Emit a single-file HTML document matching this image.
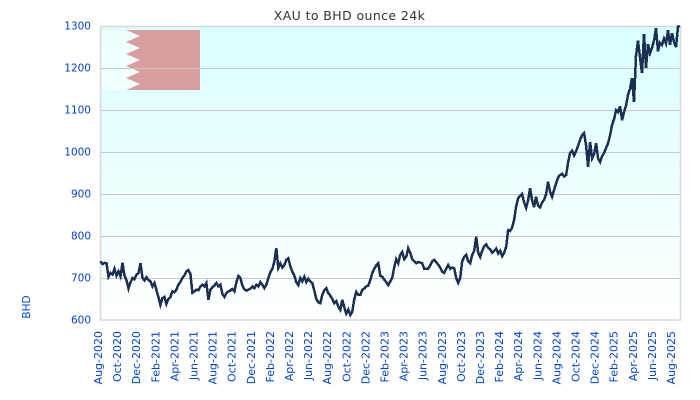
<!DOCTYPE html>
<html>
<head>
<meta charset="utf-8">
<title>XAU to BHD ounce 24k</title>
<style>
html,body{margin:0;padding:0;background:#fff;}
#chart{display:block;width:700px;height:400px;font-family:"DejaVu Sans","Liberation Sans",sans-serif;}
</style>
</head>
<body>
<svg id="chart" xmlns="http://www.w3.org/2000/svg" width="700" height="400" viewBox="0 0 700 400">
  <defs>
    <linearGradient id="plotBg" x1="0" y1="0" x2="0" y2="1">
      <stop offset="0" stop-color="#d9ffff"/>
      <stop offset="1" stop-color="#ffffff"/>
    </linearGradient>
  </defs>
  <rect x="0" y="0" width="700" height="400" fill="#ffffff"/>
  <rect x="100" y="26" width="580" height="294" fill="url(#plotBg)"/>
  <g>
    <rect x="101" y="30" width="40" height="60" fill="#ffffff" fill-opacity="0.55"/>
    <polygon fill="#d89d9f" points="126,30 200,30 200,90 126,90 140,84 126,78 140,72 126,66 140,60 126,54 140,48 126,42 140,36"/>
  </g>
  <g id="gridLayer"></g>
  <rect x="100.5" y="26.5" width="580" height="293.5" fill="none" stroke="#d8d8d8" stroke-width="1.5"/>
  <path id="priceLine" fill="none" stroke="#1a2f52" stroke-width="2.5" stroke-linejoin="miter" shape-rendering="crispEdges"/>
  <g id="yTickLayer"></g>
  <g id="xTickLayer"></g>
  <text x="349.5" y="20" text-anchor="middle" font-size="12.5" fill="#333333" letter-spacing="0.4">XAU to BHD ounce 24k</text>
  <text transform="translate(30,307) rotate(-90)" text-anchor="middle" font-size="10.5" fill="#0044cc">BHD</text>
</svg>
<script>
var yTickValues = [600,700,800,900,1000,1100,1200,1300];
var xTickLabels = ["Aug-2020","Oct-2020","Dec-2020","Feb-2021","Apr-2021","Jun-2021","Aug-2021","Oct-2021","Dec-2021","Feb-2022","Apr-2022","Jun-2022","Aug-2022","Oct-2022","Dec-2022","Feb-2023","Apr-2023","Jun-2023","Aug-2023","Oct-2023","Dec-2023","Feb-2024","Apr-2024","Jun-2024","Aug-2024","Oct-2024","Dec-2024","Feb-2025","Apr-2025","Jun-2025","Aug-2025"];
var priceValues = [
740,733,736,735,703,712,708,722,706,716,
704,736,705,695,675,690,700,697,708,712,
735,700,694,702,695,692,680,688,671,655,
636,652,655,638,650,655,668,666,672,684,
690,700,706,716,719,710,665,668,672,671,
680,684,680,688,648,672,678,682,688,680,
684,662,655,664,668,670,674,668,690,705,
700,682,673,670,672,675,680,676,684,680,
690,684,676,684,700,714,722,740,771,724,
735,725,730,743,747,728,715,706,690,683,
700,692,703,690,698,692,688,670,650,642,
640,660,671,676,664,658,650,640,645,632,
624,648,630,615,625,612,620,650,667,660,
660,672,675,680,682,695,712,722,730,735,
705,703,696,690,683,692,700,725,745,735,
755,762,745,750,771,760,745,740,735,738,
737,735,722,722,722,730,740,743,738,732,
725,715,712,722,731,722,725,723,700,688,
700,740,750,755,740,735,755,765,798,760,
750,765,775,780,772,768,760,765,770,758,
765,752,760,775,814,812,820,838,870,890,
895,900,880,867,885,914,885,869,893,872,
868,880,886,900,929,905,893,910,925,940,
945,948,942,945,975,998,1003,992,1002,1015,
1029,1040,1045,1015,965,1024,985,995,1021,985,
976,990,998,1010,1021,1040,1065,1078,1100,1095,
1109,1076,1095,1110,1136,1150,1176,1119,1229,1265,
1225,1188,1281,1200,1257,1235,1248,1265,1295,1240,
1260,1255,1270,1258,1290,1255,1283,1262,1250,1298,1300
];

var NS = "http://www.w3.org/2000/svg";
function yScale(v){ return 320 - (v - 600) * (294 / 700); }
function xScale(i){ return 100.5 + i * (579.5 / (priceValues.length - 1)); }
function xTickPos(i){ return 98.5 + i * 19.1; }

var gridLayer = document.getElementById("gridLayer");
var yTickLayer = document.getElementById("yTickLayer");
var xTickLayer = document.getElementById("xTickLayer");

yTickValues.forEach(function(v){
  var y = yScale(v);
  if (v > 600 && v < 1300) {
    var g = document.createElementNS(NS, "line");
    
    
    g.setAttribute("x1", 100); g.setAttribute("x2", 680);
    g.setAttribute("y1", Math.round(y) + 0.5); g.setAttribute("y2", Math.round(y) + 0.5);
    g.setAttribute("stroke", "#c8c8c8");
    gridLayer.appendChild(g);
  }
  var t = document.createElementNS(NS, "text");
  
  
  t.setAttribute("x", 91); t.setAttribute("y", y + 3.5);
  t.setAttribute("text-anchor", "end");
  t.setAttribute("font-size", "10.5");
  t.setAttribute("fill", "#0044cc");
  t.textContent = v;
  yTickLayer.appendChild(t);
});

xTickLabels.forEach(function(label, i){
  var x = xTickPos(i);
  var t = document.createElementNS(NS, "text");
  
  
  t.setAttribute("transform", "translate(" + (x + 3.5) + ",331) rotate(-90)");
  t.setAttribute("text-anchor", "end");
  t.setAttribute("font-size", "11");
  t.setAttribute("fill", "#0044cc");
  t.textContent = label;
  xTickLayer.appendChild(t);
});

var d = priceValues.map(function(v, i){
  return (i ? "L" : "M") + xScale(i).toFixed(1) + " " + yScale(v).toFixed(1);
}).join("");
document.getElementById("priceLine").setAttribute("d", d);
</script>
</body>
</html>
